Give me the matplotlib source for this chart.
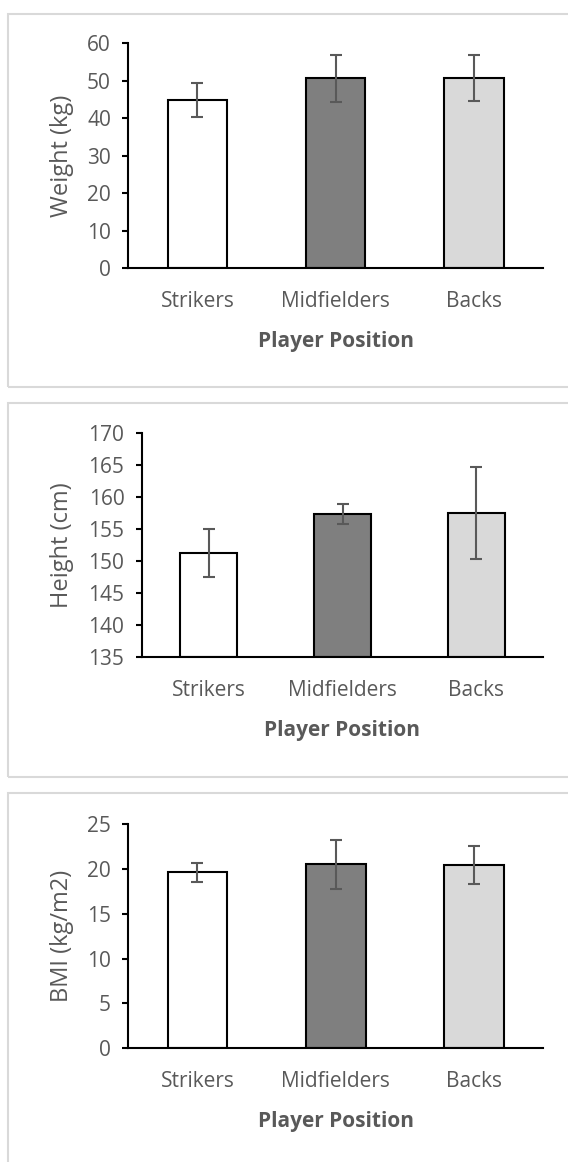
import matplotlib
matplotlib.use('Agg')
import matplotlib.pyplot as plt
from matplotlib.patches import Rectangle

# data
positions = ['Strikers', 'Midfielders', 'Backs']
weight = [44.9, 50.7, 50.7]
weight_err = [4.6, 6.3, 6.2]
height = [151.3, 157.4, 157.6]
height_err = [3.7, 1.5, 7.2]
bmi = [19.6, 20.5, 20.45]
bmi_err = [1.05, 2.7, 2.15]

bar_colors = ['#ffffff', '#7f7f7f', '#d9d9d9']
text_grey = '#595959'

plt.rcParams['font.family'] = ['Open Sans', 'DejaVu Sans']

W, H = 568, 1162
fig = plt.figure(figsize=(W / 100, H / 100), dpi=100)


def px_rect(left, top, right, bottom):
    # pixel box -> figure fraction [l, b, w, h]
    return [left / W, 1 - bottom / H, (right - left) / W, (bottom - top) / H]


# light grey frames around each chart (right side runs off the picture)
for top, bottom in [(14, 387.3), (403.3, 776.7), (793.3, 1190)]:
    fig.patches.append(Rectangle((7.5 / W, 1 - bottom / H), (600 - 7.5) / W,
                                 (bottom - top) / H, transform=fig.transFigure,
                                 fill=False, edgecolor='#d9d9d9', linewidth=1.5))

panels = [
    (weight, weight_err, 'Weight (kg)', (0, 60), 10, px_rect(128.3, 43.3, 543, 268.3)),
    (height, height_err, 'Height (cm)', (135, 170), 5, px_rect(141.7, 433.3, 543.3, 657.3)),
    (bmi, bmi_err, 'BMI (kg/m2)', (0, 25), 5, px_rect(128.3, 824, 543.3, 1048.3)),
]

for vals, errs, ylab, ylim, step, rect in panels:
    ax = fig.add_axes(rect)
    x = range(len(positions))
    ax.bar(x, [v - ylim[0] for v in vals], bottom=ylim[0], width=0.43,
           color=bar_colors, edgecolor='black', linewidth=1.5, zorder=2)
    ax.errorbar(x, vals, yerr=errs, fmt='none', ecolor='#595959',
                elinewidth=1.5, capsize=4.5, capthick=1.5, zorder=3)
    ax.set_xlim(-0.5, 2.5)
    ax.set_ylim(*ylim)
    ax.set_yticks(range(ylim[0], ylim[1] + 1, step))
    ax.set_xticks(list(x))
    ax.set_xticklabels(positions)
    for s in ['top', 'right']:
        ax.spines[s].set_visible(False)
    for s in ['left', 'bottom']:
        ax.spines[s].set_linewidth(1.5)
        ax.spines[s].set_color('black')
    ax.tick_params(axis='y', direction='out', length=4.5, width=1.5,
                   color='black', labelcolor=text_grey, labelsize=15, pad=8)
    ax.tick_params(axis='x', length=0, labelcolor=text_grey, labelsize=15, pad=16)
    ax.set_ylabel(ylab, color=text_grey, fontsize=17, va='center')
    ax.set_xlabel('Player Position', color=text_grey, fontsize=15,
                  fontweight='bold', va='center')
    ax_w = rect[2] * W
    ax_h = rect[3] * H
    ax.yaxis.set_label_coords(-(rect[0] * W - 61.6) / ax_w, 0.5)
    ax.xaxis.set_label_coords(0.5, -73 / ax_h)

fig.savefig('out.png', dpi=100)
